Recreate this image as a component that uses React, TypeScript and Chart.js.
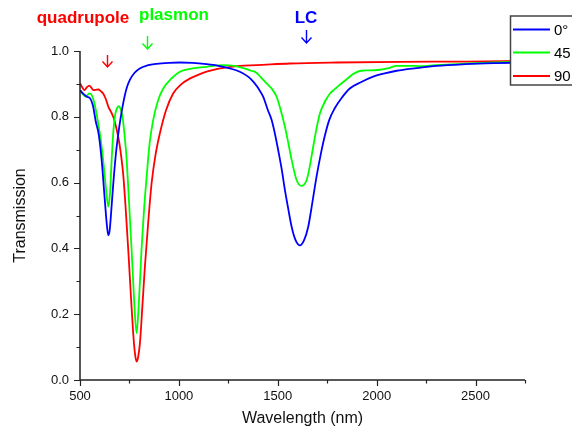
import React, { useEffect, useRef } from 'react';
import { Chart, registerables } from 'chart.js';

Chart.register(...registerables);

const FONT = "Arial, 'Liberation Sans', Helvetica, sans-serif";

// ---- Data ----
const wavelength0 = [500, 520, 535, 550, 565, 580, 595, 610, 625, 636, 643, 650, 660, 670, 682, 693, 705, 718, 735, 752, 775, 802, 840, 887, 950, 1004, 1070, 1140, 1200, 1258, 1308, 1350, 1376, 1400, 1426, 1450, 1469, 1485, 1502, 1520, 1536, 1553, 1570, 1590, 1612, 1633, 1654, 1675, 1696, 1717, 1737, 1760, 1788, 1820, 1864, 1920, 1982, 2040, 2101, 2200, 2303, 2450, 2600, 2750];
const transmission0 = [0.881, 0.868, 0.861, 0.857, 0.835, 0.785, 0.745, 0.665, 0.55, 0.47, 0.44, 0.455, 0.53, 0.61, 0.69, 0.745, 0.795, 0.84, 0.885, 0.912, 0.933, 0.947, 0.956, 0.961, 0.964, 0.965, 0.964, 0.96, 0.955, 0.947, 0.937, 0.922, 0.907, 0.888, 0.861, 0.82, 0.79, 0.75, 0.699, 0.64, 0.578, 0.52, 0.466, 0.425, 0.409, 0.425, 0.466, 0.54, 0.618, 0.685, 0.74, 0.79, 0.826, 0.855, 0.886, 0.905, 0.922, 0.932, 0.94, 0.948, 0.955, 0.96, 0.963, 0.965];

const wavelength45 = [500, 515, 530, 547, 560, 575, 592, 605, 617, 630, 643, 652, 660, 668, 676, 686, 697, 706, 715, 726, 736, 748, 761, 773, 786, 798, 811, 824, 837, 852, 870, 895, 921, 960, 1005, 1070, 1140, 1224, 1280, 1330, 1365, 1390, 1415, 1443, 1470, 1494, 1515, 1536, 1555, 1570, 1595, 1620, 1646, 1662, 1679, 1696, 1713, 1740, 1764, 1790, 1813, 1850, 1881, 1920, 1960, 2016, 2060, 2101, 2160, 2219, 2300, 2400, 2471, 2600, 2750];
const transmission45 = [0.881, 0.868, 0.861, 0.871, 0.865, 0.835, 0.78, 0.73, 0.669, 0.59, 0.527, 0.57, 0.669, 0.75, 0.8, 0.825, 0.832, 0.822, 0.8, 0.74, 0.669, 0.54, 0.395, 0.25, 0.142, 0.24, 0.395, 0.52, 0.618, 0.72, 0.79, 0.85, 0.886, 0.915, 0.937, 0.947, 0.952, 0.957, 0.955, 0.947, 0.94, 0.935, 0.92, 0.902, 0.885, 0.861, 0.82, 0.77, 0.715, 0.669, 0.608, 0.59, 0.608, 0.65, 0.709, 0.765, 0.81, 0.848, 0.871, 0.885, 0.897, 0.915, 0.93, 0.94, 0.941, 0.943, 0.948, 0.955, 0.955, 0.954, 0.957, 0.96, 0.962, 0.965, 0.968];

const wavelength90 = [500, 512, 522, 535, 547, 558, 567, 580, 592, 605, 617, 630, 643, 655, 668, 680, 693, 705, 718, 730, 744, 757, 769, 778, 786, 794, 803, 815, 828, 845, 862, 882, 904, 935, 971, 1010, 1055, 1100, 1140, 1190, 1241, 1308, 1393, 1561, 1800, 2117, 2450, 2750];
const transmission90 = [0.902, 0.889, 0.881, 0.89, 0.895, 0.888, 0.881, 0.882, 0.883, 0.878, 0.871, 0.855, 0.831, 0.817, 0.8, 0.775, 0.74, 0.695, 0.628, 0.53, 0.395, 0.26, 0.142, 0.08, 0.056, 0.07, 0.112, 0.22, 0.344, 0.48, 0.598, 0.685, 0.75, 0.82, 0.871, 0.898, 0.916, 0.928, 0.937, 0.945, 0.95, 0.955, 0.957, 0.962, 0.965, 0.967, 0.968, 0.97];

const seriesLabels = ['0°', '45', '90'];
const seriesColors = ['#0000ff', '#00ff00', '#ff0000'];

const xTickLabels = ['500', '1000', '1500', '2000', '2500'];
const yTickLabels = ['0.0', '0.2', '0.4', '0.6', '0.8', '1.0'];

const annotationTexts = ['quadrupole', 'plasmon', 'LC'];
const annotationColors = ['#ff0000', '#00ff00', '#0000ff'];
// x (nm) of text centre and arrow, arrow stem top / tip as y-value
const annotationTextX = [515, 975, 1643];
const annotationArrowX = [636, 838, 1643];

function toPoints(xs: number[], ys: number[]) {
  return xs.map((x, i) => ({ x, y: ys[i] }));
}

const overlayPlugin = {
  id: 'overlay',
  afterDraw(chart: any) {
    const ctx = chart.ctx as CanvasRenderingContext2D;
    const xs = chart.scales.x;
    const ys = chart.scales.y;
    const ca = chart.chartArea;
    ctx.save();

    // axis lines
    ctx.strokeStyle = '#222';
    ctx.lineWidth = 1.5;
    ctx.beginPath();
    ctx.moveTo(ca.left, ca.top);
    ctx.lineTo(ca.left, ca.bottom);
    ctx.lineTo(ca.right, ca.bottom);
    ctx.stroke();

    // tick marks (outside)
    ctx.lineWidth = 1.2;
    ctx.beginPath();
    xs.ticks.forEach((t: any) => {
      const px = Math.round(xs.getPixelForValue(t.value)) + 0.5;
      const major = t.label !== '';
      ctx.moveTo(px, ca.bottom);
      ctx.lineTo(px, ca.bottom + (major ? 6 : 3.5));
    });
    ys.ticks.forEach((t: any) => {
      const py = Math.round(ys.getPixelForValue(t.value)) + 0.5;
      const major = t.label !== '';
      ctx.moveTo(ca.left, py);
      ctx.lineTo(ca.left - (major ? 6 : 3.5), py);
    });
    ctx.stroke();

    // annotations
    const textY = ys.getPixelForValue(1.0) - 28;
    annotationTexts.forEach((txt, i) => {
      ctx.fillStyle = annotationColors[i];
      ctx.font = `bold 17px ${FONT}`;
      ctx.textAlign = 'center';
      ctx.textBaseline = 'alphabetic';
      const tx = xs.getPixelForValue(annotationTextX[i]);
      const dy = i === 1 ? -3 : 0;
      ctx.fillText(txt, tx, textY + dy);
    });
    const arrowTops = [55, 36, 30];
    const arrowTips = [67, 49, 43];
    annotationArrowX.forEach((ax, i) => {
      const px = Math.round(xs.getPixelForValue(ax)) + 0.5;
      ctx.strokeStyle = annotationColors[i];
      ctx.lineWidth = 1.4;
      ctx.beginPath();
      ctx.moveTo(px, arrowTops[i]);
      ctx.lineTo(px, arrowTips[i]);
      ctx.moveTo(px - 5, arrowTips[i] - 5.5);
      ctx.lineTo(px, arrowTips[i]);
      ctx.lineTo(px + 5, arrowTips[i] - 5.5);
      ctx.stroke();
    });

    // legend box
    const lx = 510.5;
    const ly = 16;
    ctx.fillStyle = '#ffffff';
    ctx.fillRect(lx, ly, 80, 69);
    ctx.strokeStyle = '#444';
    ctx.lineWidth = 1.5;
    ctx.strokeRect(lx, ly, 80, 69);
    const rowY = [29.5, 52.5, 76];
    chart.data.datasets.forEach((ds: any, i: number) => {
      ctx.strokeStyle = ds.borderColor;
      ctx.lineWidth = 2;
      ctx.beginPath();
      ctx.moveTo(513, rowY[i]);
      ctx.lineTo(550, rowY[i]);
      ctx.stroke();
      ctx.fillStyle = '#000';
      ctx.font = `15px ${FONT}`;
      ctx.textAlign = 'left';
      ctx.textBaseline = 'middle';
      ctx.fillText(ds.label, 554, rowY[i] + 1);
    });

    ctx.restore();
  },
};

export default function App() {
  const canvasRef = useRef<HTMLCanvasElement | null>(null);

  useEffect(() => {
    document.body.style.margin = '0';
    const canvas = canvasRef.current;
    if (!canvas) return;
    const xList = [wavelength0, wavelength45, wavelength90];
    const yList = [transmission0, transmission45, transmission90];
    const chart = new Chart(canvas, {
      type: 'line',
      data: {
        datasets: seriesLabels.map((label, i) => ({
          label,
          data: toPoints(xList[i], yList[i]),
          borderColor: seriesColors[i],
          backgroundColor: seriesColors[i],
          borderWidth: 1.8,
          pointRadius: 0,
          fill: false,
          cubicInterpolationMode: 'monotone' as const,
        })),
      },
      options: {
        animation: false,
        responsive: false,
        maintainAspectRatio: false,
        layout: { padding: { top: 51, right: 47, left: 0, bottom: 0 } },
        plugins: {
          legend: { display: false },
          tooltip: { enabled: false },
        },
        scales: {
          x: {
            type: 'linear',
            min: 500,
            max: 2750,
            grid: { display: false, drawTicks: false },
            border: { display: false },
            ticks: {
              stepSize: 250,
              autoSkip: false,
              maxRotation: 0,
              padding: 9,
              color: '#111',
              font: { family: FONT, size: 13 },
              callback: (v: any) => {
                const s = String(Math.round(Number(v)));
                return xTickLabels.includes(s) ? s : '';
              },
            },
            title: {
              display: true,
              text: 'Wavelength (nm)',
              color: '#111',
              font: { family: FONT, size: 16 },
              padding: { top: 0, bottom: 6 },
            },
            afterFit: (scale: any) => {
              scale.height = 54;
            },
          },
          y: {
            type: 'linear',
            min: 0,
            max: 1,
            grid: { display: false, drawTicks: false },
            border: { display: false },
            ticks: {
              stepSize: 0.1,
              autoSkip: false,
              padding: 11,
              color: '#111',
              font: { family: FONT, size: 13 },
              callback: (v: any) => {
                const s = Number(v).toFixed(1);
                return yTickLabels.includes(s) ? s : '';
              },
            },
            title: {
              display: true,
              text: 'Transmission',
              color: '#111',
              font: { family: FONT, size: 16 },
              padding: { top: 11, bottom: 0 },
            },
            afterFit: (scale: any) => {
              scale.width = 80;
            },
          },
        },
      },
      plugins: [overlayPlugin],
    });
    return () => chart.destroy();
  }, []);

  return (
    <div style={{ position: 'fixed', left: 0, top: 0, width: 572, height: 434, background: '#fff' }}>
      <canvas ref={canvasRef} width={572} height={434} />
    </div>
  );
}
